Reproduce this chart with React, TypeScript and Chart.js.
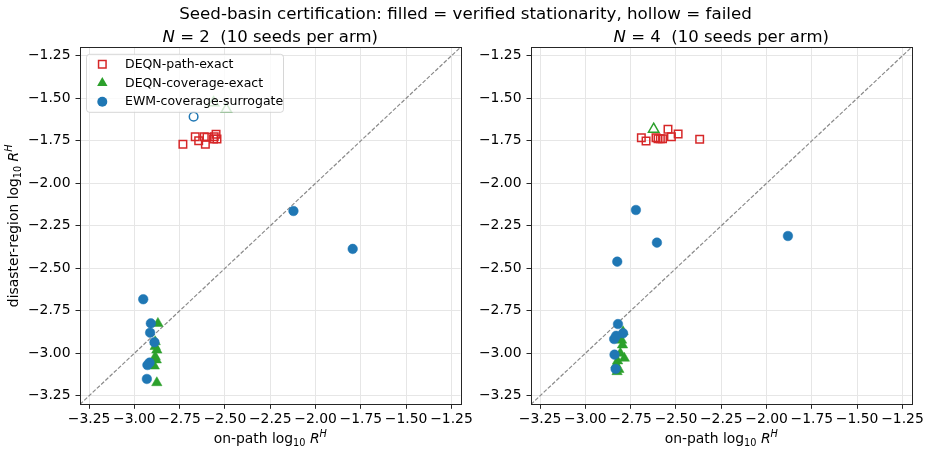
import React, { useEffect, useRef } from 'react';
import { Chart, registerables } from 'chart.js';

Chart.register(...registerables);

// ---------- data ----------
const AXIS_MIN = -3.3;
const AXIS_MAX = -1.2;
const TICKS = [-3.25, -3.0, -2.75, -2.5, -2.25, -2.0, -1.75, -1.5, -1.25];

const SUPTITLE = 'Seed-basin certification: filled = verified stationarity, hollow = failed';
const SERIES_NAMES = ['DEQN-path-exact', 'DEQN-coverage-exact', 'EWM-coverage-surrogate'];
const X_LABEL = ['on-path log', '10', 'R', 'H'];
const Y_LABEL = ['disaster-region log', '10', 'R', 'H'];

// N = 2
const n2PathX = [-2.732, -2.664, -2.645, -2.614, -2.608, -2.599, -2.563, -2.549, -2.544, -2.559];
const n2PathY = [-1.771, -1.726, -1.749, -1.726, -1.771, -1.729, -1.739, -1.712, -1.739, -1.726];
const n2CovX = [-2.563, -2.492, -2.870, -2.885, -2.885, -2.876, -2.885, -2.879, -2.890, -2.876];
const n2CovY = [-1.526, -1.565, -2.824, -2.932, -2.960, -2.981, -3.020, -3.039, -3.075, -3.173];
const n2CovOk = [false, false, true, true, true, true, true, true, true, true];
const n2EwmX = [-2.673, -2.122, -1.795, -2.951, -2.909, -2.913, -2.889, -2.916, -2.928, -2.931];
const n2EwmY = [-1.608, -2.163, -2.386, -2.682, -2.824, -2.879, -2.935, -3.055, -3.069, -3.151];
const n2EwmOk = [false, true, true, true, true, true, true, true, true, true];

// N = 4
const n4PathX = [-2.691, -2.665, -2.610, -2.599, -2.586, -2.574, -2.544, -2.525, -2.488, -2.369];
const n4PathY = [-1.732, -1.751, -1.732, -1.738, -1.738, -1.738, -1.682, -1.726, -1.710, -1.741];
const n4CovX = [-2.623, -2.792, -2.800, -2.795, -2.807, -2.785, -2.822, -2.831, -2.825, -2.815];
const n4CovY = [-1.682, -2.873, -2.923, -2.951, -3.000, -3.029, -3.045, -3.069, -3.108, -3.095];
const n4CovOk = [false, true, true, true, true, true, true, true, true, true];
const n4EwmX = [-2.721, -2.605, -2.824, -1.882, -2.820, -2.792, -2.841, -2.830, -2.839, -2.833];
const n4EwmY = [-2.157, -2.349, -2.461, -2.310, -2.828, -2.882, -2.916, -2.897, -3.008, -3.092];
const n4EwmOk = [true, true, true, true, true, true, true, true, true, true];

// ---------- style ----------
const RED = '#d62728';
const GREEN = '#2ca02c';
const BLUE = '#1f77b4';
const FONT = "'DejaVu Sans', sans-serif";
const W = 931;
const H = 454;

type Panel = {
  n: number;
  pathX: number[]; pathY: number[];
  covX: number[]; covY: number[]; covOk: boolean[];
  ewmX: number[]; ewmY: number[]; ewmOk: boolean[];
  left: number; right: number; top: number; bottom: number; yWidth: number;
  legend: boolean; yLabel: boolean; suptitle: boolean;
};

const fmt = (v: number) => v.toFixed(2).replace('-', '\u2212');

function pts(xs: number[], ys: number[]) {
  return xs.map((x, i) => ({ x, y: ys[i] }));
}

type Seg = { t: string; italic?: boolean; sub?: boolean; sup?: boolean };

function drawRich(ctx: CanvasRenderingContext2D, segs: Seg[], x: number, y: number, size: number, rotate: boolean, color = '#000') {
  const fontOf = (s: Seg) => `${s.italic ? 'italic ' : ''}${s.sub || s.sup ? size * 0.7 : size}px ${FONT}`;
  const widths = segs.map((s) => { ctx.font = fontOf(s); return ctx.measureText(s.t).width; });
  const total = widths.reduce((a, b) => a + b, 0);
  ctx.save();
  ctx.translate(x, y);
  if (rotate) ctx.rotate(-Math.PI / 2);
  ctx.fillStyle = color;
  ctx.textAlign = 'left';
  ctx.textBaseline = 'alphabetic';
  let cx = -total / 2;
  segs.forEach((s, i) => {
    ctx.font = fontOf(s);
    const dy = s.sub ? size * 0.22 : s.sup ? -size * 0.42 : 0;
    ctx.fillText(s.t, cx, dy);
    cx += widths[i];
  });
  ctx.restore();
}

function labelSegs(parts: string[]): Seg[] {
  return [{ t: parts[0] }, { t: parts[1], sub: true }, { t: ' ' }, { t: parts[2], italic: true }, { t: parts[3], italic: true, sup: true }];
}

function drawMarker(ctx: CanvasRenderingContext2D, kind: string, x: number, y: number, color: string) {
  ctx.save();
  ctx.strokeStyle = color;
  ctx.fillStyle = color;
  ctx.beginPath();
  if (kind === 'rect') {
    ctx.lineWidth = 1.5;
    ctx.rect(x - 3.75, y - 3.75, 7.5, 7.5);
    ctx.stroke();
  } else if (kind === 'triangle') {
    const r = 6;
    ctx.moveTo(x, y - r);
    ctx.lineTo(x + r * Math.sin(Math.PI * 2 / 3), y + r / 2);
    ctx.lineTo(x - r * Math.sin(Math.PI * 2 / 3), y + r / 2);
    ctx.closePath();
    ctx.fill();
  } else {
    ctx.arc(x, y, 5, 0, Math.PI * 2);
    ctx.fill();
  }
  ctx.restore();
}

function makeConfig(p: Panel): any {
  const decorPlugin = {
    id: 'decor' + p.n,
    afterDraw(chart: any) {
      const ctx: CanvasRenderingContext2D = chart.ctx;
      const a = chart.chartArea;
      // frame
      ctx.save();
      ctx.strokeStyle = '#262626';
      ctx.lineWidth = 1;
      ctx.strokeRect(Math.round(a.left) + 0.5, Math.round(a.top) + 0.5, Math.round(a.right - a.left), Math.round(a.bottom - a.top));
      ctx.restore();
      // legend
      if (p.legend) {
        const bx = a.left + 6, by = a.top + 6.5, bw = 197, bh = 58;
        ctx.save();
        ctx.beginPath();
        (ctx as any).roundRect(bx + 0.5, by + 0.5, bw, bh, 3);
        ctx.fillStyle = 'rgba(255,255,255,0.8)';
        ctx.fill();
        ctx.strokeStyle = 'rgba(204,204,204,0.8)';
        ctx.lineWidth = 1;
        ctx.stroke();
        ctx.restore();
        const kinds = ['rect', 'triangle', 'circle'];
        const colors = [RED, GREEN, BLUE];
        SERIES_NAMES.forEach((name, i) => {
          const ry = by + 10.5 + i * 18.7;
          drawMarker(ctx, kinds[i], bx + 16.3, ry, colors[i]);
          ctx.save();
          ctx.font = `12.5px ${FONT}`;
          ctx.fillStyle = '#000';
          ctx.textBaseline = 'middle';
          ctx.textAlign = 'left';
          ctx.fillText(name, bx + 39, ry + 0.5);
          ctx.restore();
        });
      }
      // titles
      const cxm = (a.left + a.right) / 2;
      drawRich(ctx, [{ t: 'N', italic: true }, { t: ` = ${p.n}  (10 seeds per arm)` }], cxm, 41.5, 16.5, false);
      if (p.suptitle) {
        drawRich(ctx, [{ t: SUPTITLE }], W / 2, 19, 16.7, false);
      }
      drawRich(ctx, labelSegs(X_LABEL), cxm, 443, 13.9, false);
      if (p.yLabel) {
        drawRich(ctx, labelSegs(Y_LABEL), 18, (a.top + a.bottom) / 2, 13.9, true);
      }
    },
  };

  const tickFont = { family: FONT, size: 13.9 };
  const gridOpts = { color: '#e6e6e6', lineWidth: 1, tickColor: '#262626', tickLength: 4.5, drawTicks: true };

  return {
    type: 'scatter',
    data: {
      datasets: [
        {
          label: 'y=x',
          data: [{ x: AXIS_MIN, y: AXIS_MIN }, { x: AXIS_MAX, y: AXIS_MAX }],
          showLine: true,
          borderColor: '#8a8a8a',
          borderWidth: 1.2,
          borderDash: [4, 1.8],
          pointRadius: 0,
          order: 10,
        },
        {
          label: SERIES_NAMES[0],
          data: pts(p.pathX, p.pathY),
          pointStyle: 'rect',
          pointRadius: 5.3,
          borderWidth: 1.5,
          borderColor: RED,
          backgroundColor: 'rgba(0,0,0,0)',
          order: 3,
        },
        {
          label: SERIES_NAMES[1],
          data: pts(p.covX, p.covY),
          pointStyle: 'triangle',
          pointRadius: 6,
          borderWidth: p.covOk.map((ok) => (ok ? 0.5 : 1.5)),
          borderColor: GREEN,
          backgroundColor: p.covOk.map((ok) => (ok ? GREEN : 'rgba(0,0,0,0)')),
          order: 2,
        },
        {
          label: SERIES_NAMES[2],
          data: pts(p.ewmX, p.ewmY),
          pointStyle: 'circle',
          pointRadius: p.ewmOk.map((ok) => (ok ? 4.8 : 4.3)),
          borderWidth: p.ewmOk.map((ok) => (ok ? 0.5 : 1.5)),
          borderColor: BLUE,
          backgroundColor: p.ewmOk.map((ok) => (ok ? BLUE : 'rgba(0,0,0,0)')),
          order: 1,
        },
      ],
    },
    options: {
      responsive: false,
      animation: false,
      devicePixelRatio: 1,
      layout: { padding: { left: p.left, right: W - p.right, top: p.top, bottom: 0 } },
      plugins: { legend: { display: false }, tooltip: { enabled: false }, title: { display: false } },
      scales: {
        x: {
          type: 'linear',
          min: AXIS_MIN,
          max: AXIS_MAX,
          afterBuildTicks: (s: any) => { s.ticks = TICKS.map((v) => ({ value: v })); },
          afterFit: (s: any) => { s.height = H - p.bottom; },
          ticks: { font: tickFont, color: '#000', autoSkip: false, maxRotation: 0, minRotation: 0, padding: 2, callback: (v: any) => fmt(Number(v)) },
          grid: gridOpts,
          border: { display: false },
        },
        y: {
          type: 'linear',
          min: AXIS_MIN,
          max: AXIS_MAX,
          afterBuildTicks: (s: any) => { s.ticks = TICKS.map((v) => ({ value: v })); },
          afterFit: (s: any) => { s.width = p.yWidth; },
          ticks: { font: tickFont, color: '#000', autoSkip: false, padding: 5, callback: (v: any) => fmt(Number(v)) },
          grid: gridOpts,
          border: { display: false },
        },
      },
    },
    plugins: [decorPlugin],
  };
}

function ChartLayer({ panel }: { panel: Panel }) {
  const ref = useRef<HTMLCanvasElement | null>(null);
  useEffect(() => {
    if (!ref.current) return;
    const chart = new Chart(ref.current, makeConfig(panel));
    return () => chart.destroy();
  }, []);
  return (
    <canvas
      ref={ref}
      width={W}
      height={H}
      style={{ position: 'absolute', left: 0, top: 0, width: W, height: H }}
    />
  );
}

export default function App() {
  const leftPanel: Panel = {
    n: 2,
    pathX: n2PathX, pathY: n2PathY,
    covX: n2CovX, covY: n2CovY, covOk: n2CovOk,
    ewmX: n2EwmX, ewmY: n2EwmY, ewmOk: n2EwmOk,
    left: 0, yWidth: 80, right: 460.5, top: 47.3, bottom: 404.3,
    legend: true, yLabel: true, suptitle: true,
  };
  const rightPanel: Panel = {
    n: 4,
    pathX: n4PathX, pathY: n4PathY,
    covX: n4CovX, covY: n4CovY, covOk: n4CovOk,
    ewmX: n4EwmX, ewmY: n4EwmY, ewmOk: n4EwmOk,
    left: 470, yWidth: 61, right: 911.5, top: 47.3, bottom: 404.3,
    legend: false, yLabel: false, suptitle: false,
  };
  return (
    <div style={{ position: 'fixed', left: 0, top: 0, width: W, height: H, background: '#fff' }}>
      <ChartLayer panel={leftPanel} />
      <ChartLayer panel={rightPanel} />
    </div>
  );
}
